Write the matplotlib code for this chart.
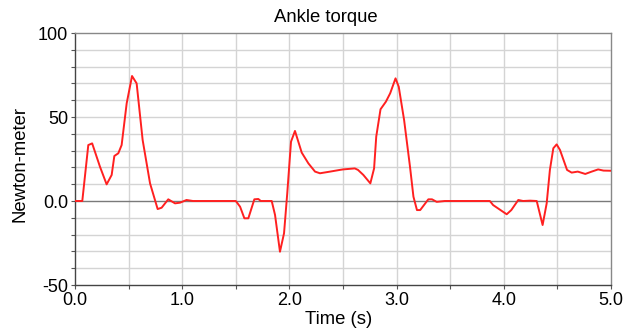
import matplotlib
matplotlib.use("Agg")
import matplotlib.pyplot as plt
from matplotlib.ticker import MultipleLocator, FixedLocator, FixedFormatter

plt.rcParams['font.family'] = ['Liberation Sans', 'DejaVu Sans']

# Ankle torque trace (time in seconds, torque in N·m)
time_s = [0.0, 0.068, 0.124, 0.16, 0.233, 0.295, 0.342, 0.367, 0.404, 0.435,
          0.482, 0.532, 0.575, 0.631, 0.70, 0.771, 0.808, 0.87, 0.933, 0.98,
          1.04, 1.10, 1.50, 1.54, 1.58, 1.617, 1.673, 1.71, 1.733, 1.835,
          1.866, 1.912, 1.95, 1.98, 2.015, 2.052, 2.115, 2.177, 2.239, 2.285,
          2.38, 2.47, 2.50, 2.61, 2.64, 2.69, 2.755, 2.79, 2.81, 2.85,
          2.90, 2.94, 2.99, 3.02, 3.07, 3.125, 3.157, 3.19, 3.22, 3.296,
          3.33, 3.374, 3.45, 3.87, 3.90, 4.027, 4.07, 4.135, 4.18, 4.245,
          4.307, 4.362, 4.40, 4.43, 4.462, 4.493, 4.524, 4.59, 4.633, 4.69,
          4.76, 4.82, 4.88, 4.93, 5.0]
torque_nm = [0.0, 0.0, 33.3, 34.3, 20.4, 9.9, 15.5, 26.8, 28.4, 33.3,
             58.1, 74.4, 70.0, 36.3, 10.5, -4.8, -4.0, 1.0, -1.4, -1.0,
             0.6, 0.0, 0.0, -3.4, -10.3, -10.3, 1.0, 1.2, 0.0, 0.0,
             -8.3, -30.2, -19.2, 4.6, 35.3, 41.7, 28.8, 22.4, 17.5, 16.5,
             17.5, 18.5, 18.8, 19.4, 18.5, 15.5, 10.5, 19.4, 38.3, 54.6,
             59.1, 64.1, 73.0, 68.0, 48.2, 20.4, 2.6, -5.4, -5.4, 1.0,
             1.0, -0.5, 0.0, 0.0, -2.4, -7.9, -5.4, 0.6, 0.0, 0.2,
             0.0, -14.3, -1.4, 18.5, 31.4, 33.7, 30.4, 18.5, 16.9, 17.5,
             16.1, 17.5, 18.8, 18.1, 18.0]

y_ticks = [-50, 0, 50, 100]
y_tick_labels = ["-50", "0.0", "50", "100"]
x_ticks = [0, 1, 2, 3, 4, 5]
x_tick_labels = ["0.0", "1.0", "2.0", "3.0", "4.0", "5.0"]

W, H = 629, 331
fig = plt.figure(figsize=(W / 100, H / 100), dpi=100)
ax = fig.add_axes([75 / W, 1 - 285 / H, (611 - 75) / W, (285 - 33) / H])

ax.set_xlim(0, 5)
ax.set_ylim(-50, 100)

# grid: vertical every 0.5 s, horizontal every 10 N·m
for xv in [0.5 * i for i in range(1, 10)]:
    ax.axvline(xv, color="#d4d4d4", lw=1.0, zorder=0)
for yv in range(-40, 100, 10):
    if yv != 0:
        ax.axhline(yv, color="#d4d4d4", lw=1.0, zorder=0)
ax.axhline(0, color="#7a7a7a", lw=1.0, zorder=1)

ax.plot(time_s, torque_nm, color="#ff2020", lw=1.4, zorder=3)

ax.yaxis.set_major_locator(FixedLocator(y_ticks))
ax.yaxis.set_major_formatter(FixedFormatter(y_tick_labels))
ax.yaxis.set_minor_locator(MultipleLocator(10))
ax.xaxis.set_major_locator(FixedLocator(x_ticks))
ax.xaxis.set_major_formatter(FixedFormatter(x_tick_labels))
ax.xaxis.set_minor_locator(MultipleLocator(0.5))

ax.tick_params(axis="both", which="both", direction="out", length=3,
               width=0.8, color="#555555", labelsize=13, pad=2)

for side in ("left", "bottom"):
    ax.spines[side].set_color("#444444")
    ax.spines[side].set_linewidth(1.0)
for side in ("top", "right"):
    ax.spines[side].set_color("#888888")
    ax.spines[side].set_linewidth(1.0)

fig.text(325.5 / W, 1 - 17 / H, "Ankle torque", fontsize=13.3,
         ha="center", va="center")
fig.text(339 / W, 1 - 320 / H, "Time (s)", fontsize=13.3,
         ha="center", va="center")
fig.text(20 / W, 1 - 163.5 / H, "Newton-meter", fontsize=13.3,
         ha="center", va="center", rotation=90)

fig.savefig("out.png", dpi=100)
